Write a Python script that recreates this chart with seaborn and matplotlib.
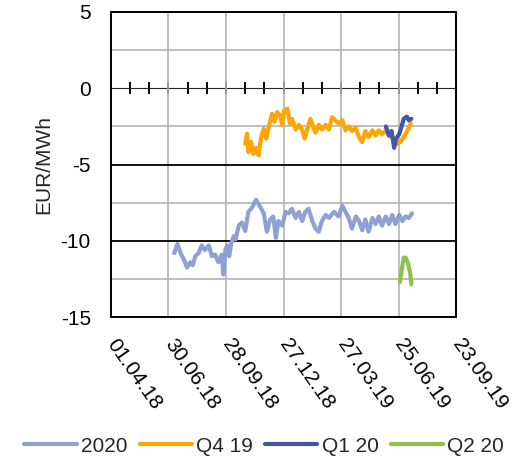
import pandas as pd
import seaborn as sns
import matplotlib.pyplot as plt
import matplotlib.dates as mdates

# series (EUR/MWh)
dates_2020 = ["2018-07-09", "2018-07-14", "2018-07-20", "2018-07-25", "2018-07-29", "2018-08-03",
              "2018-08-07", "2018-08-11", "2018-08-16", "2018-08-21", "2018-08-26", "2018-09-01",
              "2018-09-06", "2018-09-11", "2018-09-16", "2018-09-21", "2018-09-24", "2018-09-27",
              "2018-09-30", "2018-10-03", "2018-10-06", "2018-10-10", "2018-10-13", "2018-10-18",
              "2018-10-23", "2018-10-28", "2018-11-02", "2018-11-08", "2018-11-14", "2018-11-21",
              "2018-11-26", "2018-12-01", "2018-12-06", "2018-12-11", "2018-12-15", "2018-12-19",
              "2018-12-25", "2018-12-30", "2019-01-04", "2019-01-09", "2019-01-15", "2019-01-20",
              "2019-01-25", "2019-01-30", "2019-02-04", "2019-02-10", "2019-02-15", "2019-02-20",
              "2019-02-25", "2019-03-03", "2019-03-08", "2019-03-16", "2019-03-23", "2019-03-29",
              "2019-04-03", "2019-04-08", "2019-04-13", "2019-04-19", "2019-04-24", "2019-04-29",
              "2019-05-04", "2019-05-09", "2019-05-15", "2019-05-20", "2019-05-25", "2019-05-30",
              "2019-06-05", "2019-06-10", "2019-06-15", "2019-06-20", "2019-06-26", "2019-07-01",
              "2019-07-06", "2019-07-11", "2019-07-16"]
vals_2020 = [-10.8, -10.2, -10.9, -11.3, -11.75, -11.4,
             -11.6, -11.0, -10.8, -10.3, -10.6, -10.3,
             -11.0, -10.9, -11.4, -10.9, -12.2, -10.6,
             -10.3, -11.0, -10.2, -9.7, -9.9, -9.0,
             -8.8, -9.35, -8.1, -7.8, -7.3, -7.8,
             -8.2, -9.4, -8.6, -8.4, -9.8, -8.7,
             -9.0, -8.1, -8.2, -7.9, -8.5, -8.1,
             -8.7, -8.1, -7.9, -8.7, -9.2, -9.4,
             -8.7, -8.3, -8.5, -8.1, -8.4, -7.7,
             -8.1, -8.5, -9.2, -8.4, -8.7, -9.3,
             -8.6, -9.4, -8.5, -8.9, -8.4, -9.0,
             -8.4, -8.9, -8.3, -8.9, -8.3, -8.7,
             -8.4, -8.5, -8.2]

dates_q419 = ["2018-10-28", "2018-10-31", "2018-11-02", "2018-11-06", "2018-11-10", "2018-11-14",
              "2018-11-18", "2018-11-22", "2018-11-26", "2018-11-30", "2018-12-04", "2018-12-09",
              "2018-12-13", "2018-12-17", "2018-12-22", "2018-12-25", "2018-12-28", "2019-01-02",
              "2019-01-06", "2019-01-09", "2019-01-15", "2019-01-20", "2019-01-25", "2019-01-29",
              "2019-02-02", "2019-02-07", "2019-02-11", "2019-02-15", "2019-02-20", "2019-02-25",
              "2019-03-03", "2019-03-08", "2019-03-13", "2019-03-18", "2019-03-23", "2019-03-29",
              "2019-04-03", "2019-04-08", "2019-04-13", "2019-04-19", "2019-04-24", "2019-04-29",
              "2019-05-04", "2019-05-09", "2019-05-15", "2019-05-20", "2019-05-25", "2019-05-30",
              "2019-06-05", "2019-06-10", "2019-06-18", "2019-06-23", "2019-06-28", "2019-07-03",
              "2019-07-09", "2019-07-14"]
vals_q419 = [-3.64, -2.98, -4.19, -3.5, -4.3, -3.9,
             -4.4, -3.2, -2.65, -3.3, -2.5, -1.67,
             -2.2, -1.56, -1.8, -2.4, -1.45, -1.34,
             -2.3, -2.0, -2.7, -2.4, -2.7, -3.3,
             -2.7, -2.0, -2.5, -2.9, -2.4, -2.7,
             -2.4, -2.7, -1.9, -2.1, -2.3, -2.1,
             -2.76, -2.5, -2.8, -2.6, -3.2, -3.53,
             -2.8, -3.2, -2.76, -3.1, -2.76, -3.0,
             -2.76, -3.1, -3.3, -3.64, -3.5, -3.2,
             -2.76, -2.3]

dates_q120 = ["2019-06-05", "2019-06-10", "2019-06-14", "2019-06-18", "2019-06-21", "2019-06-26",
              "2019-06-29", "2019-07-03", "2019-07-08", "2019-07-11", "2019-07-15"]
vals_q120 = [-2.5, -3.1, -2.8, -3.9, -3.3, -3.0, -2.6, -2.0, -1.86, -2.1, -2.0]

dates_q220 = ["2019-06-27", "2019-07-01", "2019-07-03", "2019-07-06", "2019-07-10", "2019-07-13",
              "2019-07-15"]
vals_q220 = [-12.7, -11.6, -11.1, -11.1, -11.5, -12.1, -12.85]

series_names = ["2020", "Q4 19", "Q1 20", "Q2 20"]
series_colors = ["#8FA0D2", "#FFA500", "#4456A3", "#8CC44A"]

frames = []
for name, d, v in zip(series_names, [dates_2020, dates_q419, dates_q120, dates_q220],
                      [vals_2020, vals_q419, vals_q120, vals_q220]):
    frames.append(pd.DataFrame({"date": pd.to_datetime(d), "value": v, "series": name}))
df = pd.concat(frames, ignore_index=True)

sns.set_style("white")
plt.rcParams['font.family'] = ['Liberation Sans', 'DejaVu Sans']
plt.rcParams['axes.unicode_minus'] = False
FS = 15

fig = plt.figure(figsize=(5.16, 4.61), dpi=100)
ax = fig.add_axes([0.215, 0.312, 0.669, 0.662])

sns.lineplot(data=df, x="date", y="value", hue="series", hue_order=series_names,
             palette=series_colors, linewidth=3.0, ax=ax, sort=True, estimator=None)

# axes ranges / grid
x0, x1 = pd.Timestamp("2018-04-01"), pd.Timestamp("2019-09-23")
ax.set_xlim(x0, x1)
ax.set_ylim(-15, 5)
xt = pd.date_range(x0, x1, freq="90D")
ax.set_xticks(xt)
ax.xaxis.set_major_formatter(mdates.DateFormatter("%d.%m.%y"))
ax.set_yticks([5, 0, -5, -10, -15])
ax.set_yticks([2.5, -2.5, -7.5, -12.5], minor=True)
ax.grid(axis="x", which="major", color="#b3b3b3", lw=1.2)
ax.grid(axis="y", which="minor", color="#b3b3b3", lw=1.2)
for yv in [-5, -10]:
    ax.axhline(yv, color="black", lw=1.3, zorder=1)
ax.set_axisbelow(True)
for s in ax.spines.values():
    s.set_color("black")
    s.set_linewidth(1.4)

ax.tick_params(axis="both", which="both", length=0, labelsize=FS, colors="black")
ax.tick_params(axis="y", pad=14.5)
ax.tick_params(axis="x", pad=17)
plt.setp(ax.get_xticklabels(), rotation=-55, ha="left", va="center", rotation_mode="anchor")
ax.set_xlabel("")
ax.set_ylabel("EUR/MWh", fontsize=FS, labelpad=5)

# zero line with monthly tick marks (axis crossing at 0)
zero_ax = ax.secondary_xaxis(0.75)
zero_ax.set_xticks(pd.date_range(x0, x1, freq="30D"))
zero_ax.tick_params(axis="x", direction="inout", length=8, width=1.4, labelbottom=False,
                    labeltop=False, color="black")
zero_ax.spines["bottom"].set_linewidth(1.6)
zero_ax.spines["bottom"].set_color("black")

# legend at the bottom
handles, labels = ax.get_legend_handles_labels()
ax.get_legend().remove()
fig.legend(handles, labels, loc="center", bbox_to_anchor=(0.512, 0.032), ncol=4,
           frameon=False, fontsize=FS, handlelength=2.5, handletextpad=0.2,
           columnspacing=0.6)

fig.savefig("out.png", dpi=100)
